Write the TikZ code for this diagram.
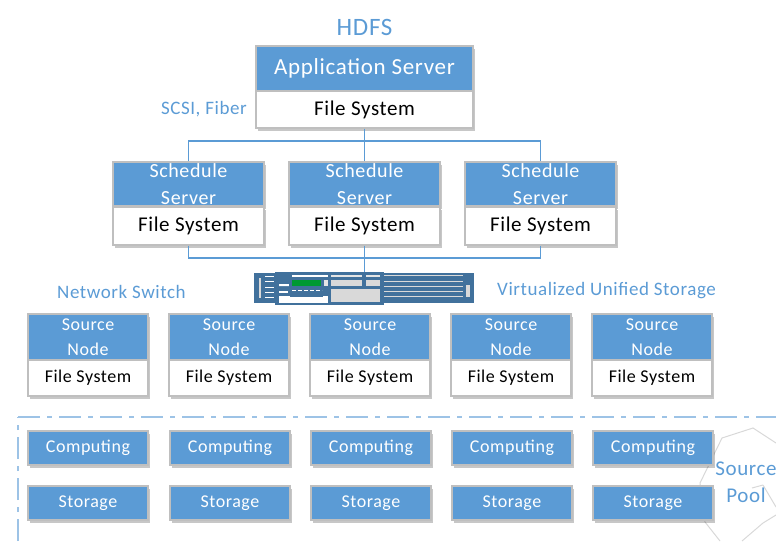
\documentclass[tikz,border=0pt]{standalone}
\usepackage{fontspec}
\setmainfont[LetterSpace=3]{Carlito}
\usetikzlibrary{shadows}
\definecolor{cblue}{HTML}{5B9BD5}
\definecolor{dblue}{HTML}{41719C}
\definecolor{cedge}{HTML}{BFBFBF}
\definecolor{cdash}{HTML}{9DC3E6}
\tikzset{
  x=1pt,y=-1pt,
  boxshadow/.style={drop shadow={shadow xshift=2pt,shadow yshift=-3pt,fill=black,opacity=.22}},
  headbox/.style={draw=cedge,line width=1.4pt,fill=cblue,text=white,inner sep=0pt,minimum width=#1,align=center},
  bodybox/.style={draw=cedge,line width=1.4pt,fill=white,text=black,inner sep=0pt,minimum width=#1,align=center},
  link/.style={draw=cblue,line width=1.6pt},
  caption/.style={text=cblue,inner sep=0pt,font=\fontsize{19}{22}\selectfont},
  dev/.style={fill=dblue,draw=none},
  devlight/.style={fill=white!85!black,draw=none},
}
\newcommand{\lsize}{\fontsize{21}{26}\selectfont}
\newcommand{\msize}{\fontsize{18}{25}\selectfont}
\begin{document}
\begin{tikzpicture}
\useasboundingbox (0,0) rectangle (776,541);
% source pool
\draw[cedge!60,line width=1pt] (776,443) -- (753,428) -- (722,438) -- (700,483) -- (705,522) -- (720,541);
\draw[cedge!60,line width=1pt] (742,541) -- (763,523) -- (776,515);
\draw[cedge!60,line width=1pt] (763,485) -- (776,507);
\draw[cedge!60,line width=1pt] (763,485) -- (752,488);
% dash-dot frame
\draw[cdash,line width=2pt,dash pattern=on 22pt off 7pt on 5pt off 7pt] (18,417) -- (776,417);
\draw[cdash,line width=2pt,dash pattern=on 22pt off 7pt on 5pt off 7pt] (18,541) -- (18,417);
% app server
\node[headbox=217pt,minimum height=45pt,boxshadow,font=\fontsize{23}{26}\selectfont] (apphead) at (364.5,68.5) {Application Server};
\node[bodybox=217pt,minimum height=37pt,boxshadow,font=\lsize] (appbody) at (364.5,109.5) {File System};
% schedule servers
\foreach \n/\x in {a/188.5,b/364.5,c/540.5}{
  \node[headbox=151pt,minimum height=44pt,boxshadow,font=\fontsize{20}{27}\selectfont] (sch\n) at (\x,184) {Schedule\\Server};
  \node[bodybox=151pt,minimum height=38pt,boxshadow,font=\lsize] (fs\n) at (\x,226) {File System};
}
\coordinate (bus1) at (364.5,141);
\coordinate (bus2) at (364.5,258);
\draw[link] (appbody.south) -- (schb.north);
\draw[link] (scha.north) |- (bus1) -| (schc.north);
% device
\draw[link] (fsb.south) -- (364.5,272);
\draw[link] (fsa.south) |- (bus2) -| (fsc.south);
\draw[link] (bus2) -- (364.5,274);
% device drawing
\fill[dev] (254,273) rectangle (474,303);
\fill[dev] (275,272) rectangle (384,305);
\foreach \y in {276,281.5,287,292,297}{
  \fill[devlight] (384,\y-1) rectangle (463,\y);
}
\fill[devlight] (466,285) rectangle (470,297);
\fill[devlight] (259,278) rectangle (261,298);
\foreach \y in {277,282,288,293,298}{\fill[white] (265,\y-1) rectangle (274,\y);}
\fill[white] (279,284) rectangle (289,286);
\fill[white] (279,291) rectangle (288,293);
\fill[white] (279,296) rectangle (328,302.5);
\fill[dev] (290,284) rectangle (323,297);
\fill[white] (292,275) rectangle (328,277);
\fill[white!90!black] (331,275) rectangle (362,277);
\fill[white!90!black] (366,275) rectangle (380,277);
\fill[white!85!black] (331,280) rectangle (362,286);
\fill[white!85!black] (366,280) rectangle (380,286);
\fill[white!85!black] (331,289) rectangle (380,302);
\fill[white!90!black] (324,280) rectangle (328,286);
\fill[white] (279,286) rectangle (289,286);
\fill[green!50!black!80!cyan] (292,280) rectangle (321,285.5);
\draw[white,line width=1pt,dash pattern=on 4pt off 2pt] (292,290) -- (322,290);
% captions
\node[caption,font=\fontsize{25}{28}\selectfont] (hdfs) at (364.5,27) {HDFS};
\node[caption,anchor=east] (scsi) at (247,109) {SCSI, Fiber};
\node[caption,anchor=west] (nsw) at (57,292) {Network Switch};
\node[caption,anchor=west] (vus) at (497,291) {Virtualized Unified Storage};
\node[caption,font=\fontsize{21}{27}\selectfont,align=center] (pool) at (746,482) {Source\\Pool};
% source nodes etc
\foreach \i/\x/\d in {1/88/0,2/229/1,3/370/1,4/511/1,5/652/1}{
  \node[headbox=120pt,minimum height=46pt,boxshadow,font=\msize] (srchead\i) at (\x,337) {Source\\Node};
  \node[bodybox=120pt,minimum height=36pt,boxshadow,font=\msize] (srcbody\i) at (\x,378) {File System};
  \node[headbox=120pt,minimum height=34pt,boxshadow,font=\msize] (comp\i) at (\x+\d,448) {Computing};
  \node[headbox=120pt,minimum height=34pt,boxshadow,font=\msize] (stor\i) at (\x+\d,503) {Storage};
}
\end{tikzpicture}
\end{document}
